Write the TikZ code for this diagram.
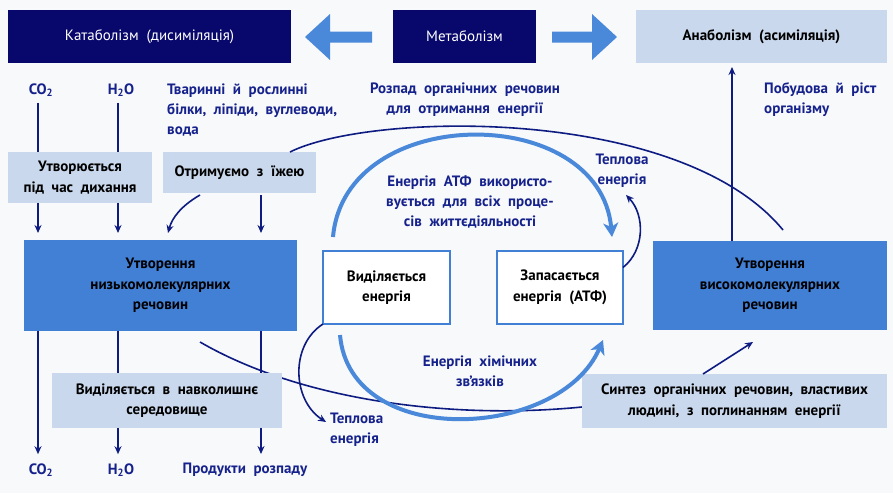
\documentclass[tikz,border=0pt]{standalone}
\usepackage{fontspec}
\setmainfont{PT Sans}[WordSpace=2.0]
\usetikzlibrary{arrows.meta,calc}
\definecolor{navybox}{RGB}{8,8,108}
\definecolor{txtblue}{RGB}{22,34,140}
\definecolor{lineblue}{RGB}{14,28,130}
\definecolor{midblue}{RGB}{66,128,214}
\definecolor{lightbox}{RGB}{201,216,236}
\definecolor{arrowblue}{RGB}{74,136,218}
\definecolor{bgcol}{RGB}{248,249,251}
\pgfdeclarelayer{bgl}
\pgfdeclarelayer{mid}
\pgfsetlayers{bgl,mid,main}
\tikzset{
  box/.style={rectangle, inner sep=2pt, outer sep=0pt, align=center, text=black,
    font=\bfseries\fontsize{15}{20.5}\selectfont},
  darkbox/.style={box, fill=navybox, text=white, font=\fontsize{15}{20}\selectfont},
  lbox/.style={box, fill=lightbox},
  mbox/.style={box, fill=midblue},
  wbox/.style={box, fill=white, draw=midblue, line width=1.5pt},
  lbl/.style={text=txtblue, inner sep=1pt, font=\bfseries\fontsize{15}{20}\selectfont},
  ln/.style={draw=lineblue, line width=1.6pt},
  arr/.style={ln, -{Stealth[length=8pt,width=7pt]}},
  bigarr/.style={draw=arrowblue, line width=4pt, -{Stealth[length=14pt,width=15pt,inset=4pt]}}
}
\begin{document}
\begin{tikzpicture}[x=1pt,y=-1pt]
\begin{pgfonlayer}{bgl}
\fill[bgcol] (0,0) rectangle (893,493);
\end{pgfonlayer}
\useasboundingbox (0,0) rectangle (893,493);

% column coordinates
\coordinate (xA) at (38,0);
\coordinate (xB) at (118,0);
\coordinate (xC) at (261,0);
\coordinate (xD) at (200,0);
\coordinate (xE) at (168,0);
\coordinate (xG) at (290,0);
\coordinate (xK) at (783,0);
\coordinate (xH) at (732,0);
\coordinate (xR1) at (333,0);
\coordinate (xR2) at (612,0);
\coordinate (xR3) at (340,0);
\coordinate (xR4) at (603,0);
\coordinate (xS) at (200,0);
\coordinate (xT) at (703,0);
\coordinate (xU) at (753,0);

% top row
\node[darkbox, minimum width=283pt, minimum height=53pt] (kat) at (149.5,36.5) {Катаболізм (дисиміляція)};
\node[darkbox, minimum width=143pt, minimum height=53pt] (met) at (464.5,36.5) {Метаболізм};
\node[lbox, minimum width=251pt, minimum height=53pt] (ana) at (761.5,36.5) {Анаболізм (асиміляція)};
\fill[arrowblue] (372,31.5) -- (330,31.5) -- (330,14) -- (305,37) -- (330,60) -- (330,42.5) -- (372,42.5) -- cycle;
\fill[arrowblue] (552,31.5) -- (592,31.5) -- (592,14) -- (617,37) -- (592,60) -- (592,42.5) -- (552,42.5) -- cycle;

% labels
\node[lbl] (co2t) at (41,90) {CO\textsubscript{2}};
\node[lbl] (h2ot) at (121,90) {H\textsubscript{2}O};
\node[lbl, align=left, anchor=west] (animal) at (166,110) {Тваринні й рослинні\\білки, ліпіди, вуглеводи,\\вода};
\node[lbl, align=center] (rozp) at (465,100) {Розпад органічних речовин\\для отримання енергії};
\node[lbl, align=left, anchor=west] (pob) at (763,100) {Побудова й ріст\\організму};

% boxes
\node[lbox, minimum width=144pt, minimum height=51pt] (dih) at (80,177.5) {Утворюється\\під час дихання};
\node[lbox, minimum width=153pt, minimum height=41pt] (food) at (239.5,172.5) {Отримуємо з їжею};
\node[mbox, minimum width=273pt, minimum height=91pt] (low) at (160.5,285.5) {Утворення\\низькомолекулярних\\речовин};
\node[mbox, minimum width=234pt, minimum height=89pt] (high) at (770,285.5) {Утворення\\високомолекулярних\\речовин};
\node[wbox, minimum width=127pt, minimum height=73pt] (rel) at (386.5,287.5) {Виділяється\\енергія};
\node[wbox, minimum width=126pt, minimum height=73pt] (store) at (560,287.5) {Запасається\\енергія (АТФ)};
\node[lbox, minimum width=230pt, minimum height=55pt] (env) at (167,400.5) {Виділяється в навколишнє\\середовище};
\node[lbox, minimum width=305pt, minimum height=54pt] (syn) at (734.5,401) {Синтез органічних речовин, властивих\\людині, з поглинанням енергії};

% inner labels
\node[lbl, align=center] (atp) at (470,202) {Енергія АТФ використо-\\вується для всіх проце-\\сів життєдіяльності};
\node[lbl, align=center] (tep1) at (622,171) {Теплова\\енергія};
\node[lbl, align=center] (chem) at (480,371) {Енергія хімічних\\зв’язків};
\node[lbl, align=left, anchor=west] (tep2) at (329,430) {Теплова\\енергія};
\node[lbl] (co2b) at (41,470) {CO\textsubscript{2}};
\node[lbl] (h2ob) at (121,470) {H\textsubscript{2}O};
\node[lbl] (prod) at (245,470) {Продукти розпаду};

% connectors
\draw[ln, shorten <=5pt] (co2t.south -| xA) -- (dih.north -| xA);
\draw[ln, shorten <=5pt] (h2ot.south -| xB) -- (dih.north -| xB);
\draw[arr, shorten >=7pt] (dih.south -| xA) -- (low.north -| xA);
\draw[arr, shorten >=7pt] (dih.south -| xB) -- (low.north -| xB);
\draw[arr, shorten >=7pt, shorten <=2pt] (food.south -| xC) -- (low.north -| xC);
\draw[arr] ($(food.south -| xD)+(0,2)$) .. controls (181,206) and (172,218) .. ($(low.north -| xE)+(0,-7)$);
\draw[ln] (food.north -| xG) .. controls (370,112) and (680,105) .. ($(high.north -| xK)+(0,-11)$);
\draw[arr, shorten >=4pt] (high.north -| xH) -- (ana.south -| xH);

\draw[bigarr] ($(rel.north -| xR1)+(0,-14)$) .. controls (345,102) and (600,102) .. ($(store.north -| xR2)+(0,-14)$);
\draw[bigarr] ($(rel.south -| xR3)+(0,11)$) .. controls (350,450) and (560,440) .. ($(store.south -| xR4)+(0,16)$);

\draw[arr] ($(store.east)+(0,-20)$) .. controls (645,250) and (645,215) .. ($(tep1.south)+(4,6)$);
\draw[arr] (rel.south west) .. controls (290,345) and (292,400) .. ($(tep2.west)+(-3,-8)$);

\begin{pgfonlayer}{mid}
\draw[ln] ($(low.south -| xS)+(0,11)$) .. controls (300,400) and (450,420) .. ($(syn.west)+(0,6)$);
\end{pgfonlayer}

\draw[arr, shorten >=8pt] (low.south -| xA) -- (co2b.north -| xA);
\draw[ln] (low.south -| xB) -- (env.north -| xB);
\draw[arr, shorten >=8pt] (env.south -| xB) -- (h2ob.north -| xB);
\draw[ln] (low.south -| xC) -- (env.north -| xC);
\draw[arr, shorten >=8pt] (env.south -| xC) -- (prod.north -| xC);
\draw[arr] (syn.north -| xT) -- ($(high.south -| xU)+(0,12)$);
\end{tikzpicture}
\end{document}
